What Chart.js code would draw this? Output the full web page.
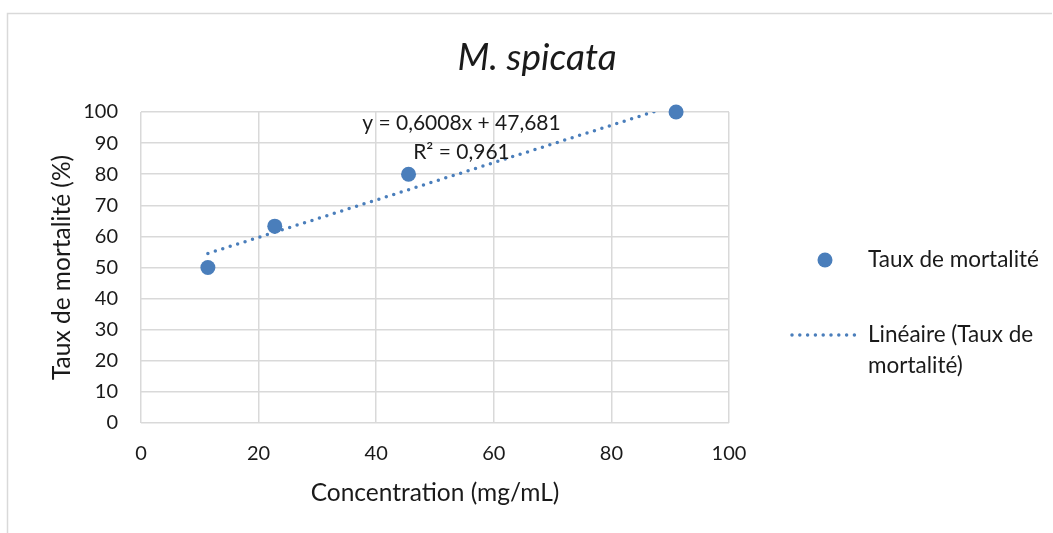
<!DOCTYPE html>
<html>
<head>
<meta charset="utf-8">
<script src="https://cdn.jsdelivr.net/npm/chart.js@4.4.0/dist/chart.umd.min.js"></script>
<style>
  body { margin: 0; background: #fff; }
  canvas { display: block; }
</style>
</head>
<body>
<canvas id="mortaliteChart" width="1053" height="533"></canvas>
<script>
// données
const concentrations = [11.375, 22.75, 45.5, 91];
const mortalite = [50, 63.3, 80, 100];
// extrémités de la courbe de tendance (y = 0,6008x + 47,681)
const trendX = [11.375, 91];
const trendY = [54.515, 102.35];
const xTicks = [0, 20, 40, 60, 80, 100];
const yTicks = [0, 10, 20, 30, 40, 50, 60, 70, 80, 90, 100];
const equationLines = ['y = 0,6008x + 47,681', 'R² = 0,961'];
const legendLabels = [['Taux de mortalité'], ['Linéaire (Taux de', 'mortalité)']];

const bleu = '#4a7ebb';
const texte = '#1a1a1a';
const grille = '#d9d9d9';
const police = 'Lato';

const toPoints = (xs, ys) => xs.map((x, i) => ({ x: x, y: ys[i] }));

// cadre, titre, équation et légende dessinés à la main
const extras = {
  id: 'extras',
  beforeDraw(chart) {
    const ctx = chart.ctx;
    ctx.save();
    ctx.strokeStyle = grille;
    ctx.lineWidth = 1.5;
    ctx.beginPath();
    ctx.moveTo(7.5, 533);
    ctx.lineTo(7.5, 13.5);
    ctx.lineTo(1052, 13.5);
    ctx.stroke();
    ctx.restore();
  },
  afterDraw(chart) {
    const ctx = chart.ctx;
    const xs = chart.scales.x;
    const ys = chart.scales.y;
    ctx.save();
    ctx.fillStyle = texte;
    ctx.textBaseline = 'middle';

    // titre
    ctx.textAlign = 'center';
    ctx.font = 'italic 37px ' + police;
    ctx.fillText('M. spicata', 537, 58);

    // équation de la tendance
    ctx.font = '21px ' + police;
    const ex = xs.getPixelForValue(54.5);
    equationLines.forEach((l, i) => {
      ctx.fillText(l, ex, ys.getPixelForValue(96.4) + i * 29);
    });

    // légende
    ctx.textAlign = 'left';
    ctx.fillStyle = bleu;
    ctx.beginPath();
    ctx.arc(825, 260, 7.5, 0, Math.PI * 2);
    ctx.fill();
    ctx.strokeStyle = bleu;
    ctx.lineWidth = 3.5;
    ctx.lineCap = 'round';
    ctx.setLineDash([0, 7.8]);
    ctx.beginPath();
    ctx.moveTo(792, 335);
    ctx.lineTo(859, 335);
    ctx.stroke();
    ctx.setLineDash([]);

    ctx.fillStyle = texte;
    ctx.font = '22.5px ' + police;
    ctx.fillText(legendLabels[0][0], 868, 260);
    legendLabels[1].forEach((l, i) => ctx.fillText(l, 868, 335 + i * 31));
    ctx.restore();
  }
};

const ctx = document.getElementById('mortaliteChart').getContext('2d');
new Chart(ctx, {
  type: 'scatter',
  data: {
    datasets: [{
      label: 'Linéaire (Taux de mortalité)',
      data: toPoints(trendX, trendY),
      showLine: true,
      borderColor: bleu,
      borderWidth: 3.5,
      borderDash: [0, 7.8],
      borderCapStyle: 'round',
      pointRadius: 0,
      order: 0
    }, {
      label: 'Taux de mortalité',
      data: toPoints(concentrations, mortalite),
      backgroundColor: bleu,
      borderWidth: 0,
      pointRadius: 7.5,
      pointHoverRadius: 7.5,
      clip: false,
      order: 1
    }]
  },
  options: {
    responsive: false,
    animation: false,
    layout: { padding: { left: 0, top: 112, right: 324, bottom: 0 } },
    plugins: {
      legend: { display: false },
      tooltip: { enabled: false }
    },
    scales: {
      x: {
        type: 'linear',
        min: xTicks[0],
        max: xTicks[xTicks.length - 1],
        afterBuildTicks: (s) => { s.ticks = xTicks.map(v => ({ value: v })); },
        afterFit: (s) => { s.height = 110; },
        ticks: { padding: 19, color: texte, font: { family: police, size: 20 } },
        grid: { color: grille, lineWidth: 1.5, drawTicks: false },
        border: { display: false },
        title: {
          display: true,
          text: 'Concentration (mg/mL)',
          color: texte,
          font: { family: police, size: 24.5 },
          padding: { top: 0, bottom: 25 }
        }
      },
      y: {
        type: 'linear',
        min: yTicks[0],
        max: yTicks[yTicks.length - 1],
        afterBuildTicks: (s) => { s.ticks = yTicks.map(v => ({ value: v })); },
        afterFit: (s) => { s.width = 141; },
        ticks: { padding: 23, color: texte, font: { family: police, size: 20 } },
        grid: { color: grille, lineWidth: 1.5, drawTicks: false },
        border: { display: false },
        title: {
          display: true,
          text: 'Taux de mortalité (%)',
          color: texte,
          font: { family: police, size: 24.5 },
          padding: { top: 47, bottom: 0 }
        }
      }
    }
  },
  plugins: [extras]
});
</script>
</body>
</html>
